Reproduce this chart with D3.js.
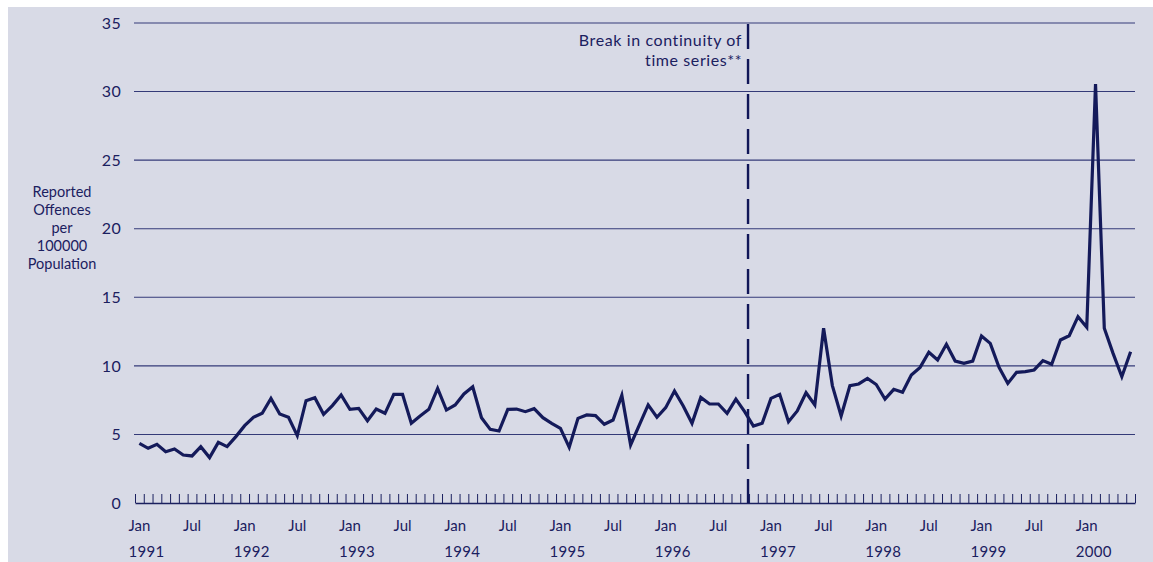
<!DOCTYPE html>
<html>
<head>
<meta charset="utf-8">
<script src="https://cdn.jsdelivr.net/npm/d3@7"></script>
<style>
  body { margin: 0; background: #fff; }
  svg { display: block; font-family: Lato, "Open Sans", sans-serif; }
</style>
</head>
<body>
<svg id="chart" width="1153" height="562"></svg>
<script>
// monthly rate, Jan 1991 .. Jun 2000
const years = ["1991", "1992", "1993", "1994", "1995", "1996", "1997", "1998", "1999", "2000"];
const values = [
  4.35, 3.99, 4.28, 3.74, 3.94, 3.50, 3.43, 4.11, 3.31, 4.42, 4.11, 4.84,   // 1991
  5.64, 6.25, 6.54, 7.63, 6.49, 6.25, 4.91, 7.46, 7.68, 6.47, 7.10, 7.88,   // 1992
  6.83, 6.90, 6.00, 6.85, 6.54, 7.92, 7.92, 5.81, 6.34, 6.83, 8.36, 6.78,   // 1993
  7.15, 7.95, 8.48, 6.22, 5.37, 5.25, 6.83, 6.85, 6.66, 6.88, 6.22, 5.81,   // 1994
  5.44, 4.06, 6.17, 6.42, 6.37, 5.74, 6.05, 7.85, 4.23, 5.69, 7.15, 6.25,   // 1995
  6.95, 8.17, 7.07, 5.81, 7.70, 7.22, 7.22, 6.54, 7.58, 6.66, 5.61, 5.81,   // 1996
  7.63, 7.92, 5.93, 6.71, 8.04, 7.15, 12.74, 8.56, 6.34, 8.56, 8.68, 9.09,  // 1997
  8.64, 7.58, 8.29, 8.07, 9.33, 9.89, 10.99, 10.43, 11.57, 10.35, 10.18, 10.35, // 1998
  12.18, 11.64, 9.89, 8.72, 9.53, 9.58, 9.70, 10.38, 10.11, 11.89, 12.20, 13.59, // 1999
  12.81, 30.55, 12.74, 10.91, 9.21, 11.03                                     // 2000
];
const yTicks = [0, 5, 10, 15, 20, 25, 30, 35];
const yLabel = ["Reported", "Offences", "per", "100000", "Population"];
const breakMonth = 70;  // break in series between Oct and Nov 1996
const note = ["Break in continuity of", "time series**"];

const navy = "#1b205f";
const svg = d3.select("#chart");

// panel background
svg.append("rect")
    .attr("x", 8).attr("y", 7)
    .attr("width", 1153 - 8).attr("height", 562 - 7)
    .attr("fill", "#d8dae6");

const x = d3.scaleLinear().domain([0, values.length]).range([135, 1135]);
const y = d3.scaleLinear().domain([0, 35]).range([503, 23]);

// gridlines
svg.append("g")
  .selectAll("line")
  .data(yTicks.filter(d => d > 0))
  .join("line")
    .attr("x1", 134).attr("x2", 1135)
    .attr("y1", d => y(d)).attr("y2", d => y(d))
    .attr("stroke", "#343a78")
    .attr("stroke-width", 1.1);

// y tick labels
svg.append("g")
  .selectAll("text")
  .data(yTicks)
  .join("text")
    .attr("x", 121)
    .attr("y", d => y(d))
    .attr("dy", "0.36em")
    .attr("text-anchor", "end")
    .attr("font-size", "16px")
    .attr("letter-spacing", "0.3px")
    .attr("fill", navy)
    .text(d => d);

// y label
svg.append("text")
    .attr("text-anchor", "middle")
    .attr("font-size", "14.5px")
    .attr("fill", navy)
  .selectAll("tspan")
  .data(yLabel)
  .join("tspan")
    .attr("x", 62)
    .attr("y", (d, i) => 197 + i * 18)
    .text(d => d);

// x axis: month ticks pointing up
const xAxis = svg.append("g")
    .attr("transform", `translate(0, ${y(0)})`)
    .call(d3.axisTop(x).tickValues(d3.range(0, values.length + 1)).tickSize(9).tickSizeOuter(0).tickFormat(""));
xAxis.select(".domain").attr("stroke", navy).attr("stroke-width", 1.3);
xAxis.selectAll(".tick line").attr("stroke", navy).attr("stroke-width", 1);

// month labels (Jan / Jul) and years
const monthLabels = d3.range(0, values.length).filter(i => i % 6 === 0);
svg.append("g")
  .selectAll("text")
  .data(monthLabels)
  .join("text")
    .attr("class", "mon")
    .attr("x", i => x(i + 0.5))
    .attr("y", 531)
    .attr("text-anchor", "middle")
    .attr("font-size", "15px")
    .attr("fill", navy)
    .text(i => i % 12 === 0 ? "Jan" : "Jul");

const janW = svg.select("text.mon").node().getComputedTextLength();
svg.append("g")
  .selectAll("text")
  .data(years)
  .join("text")
    .attr("x", (d, i) => x(i * 12 + 0.5) - janW / 2)
    .attr("y", 557)
    .attr("font-size", "15px")
    .attr("letter-spacing", "0.3px")
    .attr("fill", navy)
    .text(d => d);

// break line
svg.append("line")
    .attr("x1", x(breakMonth) - 1).attr("x2", x(breakMonth) - 1)
    .attr("y1", 24).attr("y2", y(0))
    .attr("stroke", "#101658")
    .attr("stroke-width", 2.4)
    .attr("stroke-dasharray", "25,10");

svg.append("text")
    .attr("text-anchor", "end")
    .attr("font-size", "16px")
    .attr("letter-spacing", "0.6px")
    .attr("fill", navy)
  .selectAll("tspan")
  .data(note)
  .join("tspan")
    .attr("x", x(breakMonth) - 7)
    .attr("y", (d, i) => 46 + i * 20)
    .text(d => d);

// series line
const line = d3.line()
    .x((d, i) => x(i + 0.5))
    .y(d => y(d));

svg.append("path")
    .datum(values)
    .attr("d", line)
    .attr("fill", "none")
    .attr("stroke", "#141a5a")
    .attr("stroke-width", 3.2)
    .attr("stroke-linejoin", "miter");
</script>
</body>
</html>
